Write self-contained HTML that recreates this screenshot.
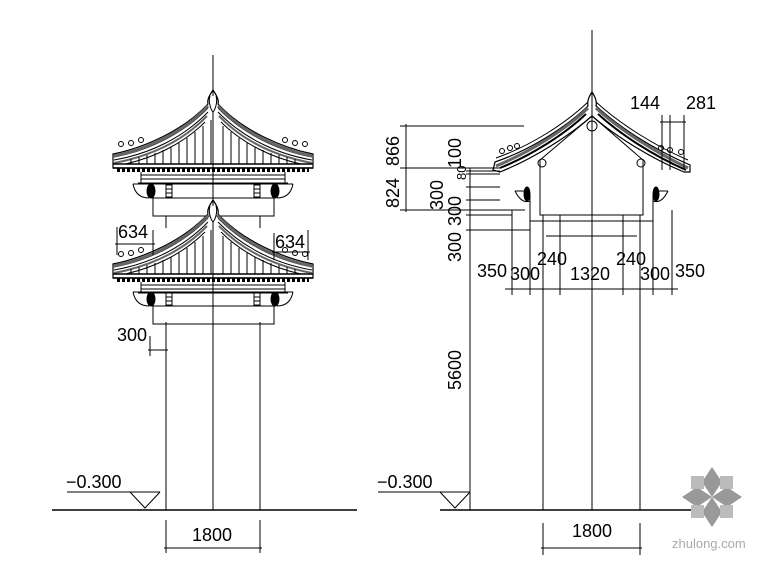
<!DOCTYPE html>
<html><head><meta charset="utf-8"><style>
html,body{margin:0;padding:0;background:#fff}
svg{display:block}
text{font-family:"Liberation Sans",sans-serif;font-size:18px;fill:#000;stroke:none;font-weight:normal}
</style></head><body>
<svg width="770" height="577" viewBox="0 0 770 577" xmlns="http://www.w3.org/2000/svg" stroke="#000" fill="none" stroke-width="1">
<defs>
<g id="roof">
  <path d="M0,-6 C-4,0 -6,4 -5,8 C-30,35 -70,52 -100,58 L-100,72 L100,72 L100,58 C70,52 30,35 5,8 C6,4 4,0 0,-6Z" stroke-width="1.2"/>
  <path d="M-5,12 C-30,38 -66,55 -99,61 M5,12 C30,38 66,55 99,61"/>
  <path d="M-5,16 C-30,42 -64,58 -99,64 M5,16 C30,42 64,58 99,64"/>
  <path d="M-5,10 C-30,37 -68,54 -99,60 M5,10 C30,37 68,54 99,60" stroke="#666" stroke-width="3"/>
  <path d="M-6,20 C-30,45 -62,60 -99,67 M6,20 C30,45 62,60 99,67" stroke="#666" stroke-width="2"/>
  <path d="M-8,26 C-30,48 -60,62 -88,68 M8,26 C30,48 60,62 88,68"/>
  <path d="M-3,0 C-5,6 -2,14 0,16 C2,14 5,6 3,0" fill="#fff"/>
  <path d="M-10,30 V68 M-18,36 V68 M-26,42 V68 M-34,47 V68 M-42,51 V68 M-50,54 V68 M-58,57 V68 M-66,59 V68 M-74,61 V68 M-82,63 V68 M10,30 V68 M18,36 V68 M26,42 V68 M34,47 V68 M42,51 V68 M50,54 V68 M58,57 V68 M66,59 V68 M74,61 V68 M82,63 V68 M-2,24 V68"/>
  <path d="M-100,72 H100 M-100,68 H100" stroke-width="1.5"/>
  <path d="M-96,74 H96" stroke-dasharray="3 2" stroke-width="4"/>
  <circle cx="-92" cy="48" r="2.5"/><circle cx="-82" cy="47" r="2.5"/><circle cx="-72" cy="44" r="2.5"/>
  <circle cx="92" cy="48" r="2.5"/><circle cx="82" cy="47" r="2.5"/><circle cx="72" cy="44" r="2.5"/>
  <path d="M-72,79 H72 M-72,83 H72 M-75,87 H75"/>
  <path d="M-72,76 V87 M72,76 V87"/>
</g>
<g id="band">
  <path d="M-80,0 H80 M-60,0 V14 M60,0 V14 M-62,14 H62"/>
  <path d="M-80,0 C-78,10 -72,14 -64,14"/>
  <path d="M80,0 C78,10 72,14 64,14"/>
  <ellipse cx="-62" cy="7" rx="4" ry="7" fill="#000"/>
  <ellipse cx="62" cy="7" rx="4" ry="7" fill="#000"/>
  <rect x="-47" y="1" width="6" height="12"/>
  <rect x="41" y="1" width="6" height="12"/>
  <path d="M-47,5 H-41 M-47,9 H-41 M41,5 H47 M41,9 H47"/>
  <rect x="-60" y="14" width="121" height="18"/>
</g>
</defs>

<line x1="213" y1="55" x2="213" y2="510"/>
<use href="#roof" x="213" y="96"/>
<use href="#band" x="213" y="184"/>
<use href="#roof" x="213" y="206"/>
<use href="#band" x="213" y="292"/>
<line x1="166" y1="216" x2="166" y2="228"/><line x1="260" y1="216" x2="260" y2="228"/>
<line x1="166" y1="322" x2="166" y2="510"/>
<line x1="260" y1="322" x2="260" y2="510"/>
<line x1="52" y1="510" x2="357" y2="510" stroke-width="1.5"/>
<line x1="67" y1="492" x2="160" y2="492"/>
<path d="M130,492 L145,508 L160,492"/>
<text x="66" y="488">−0.300</text>
<line x1="166" y1="520" x2="166" y2="553"/><line x1="260" y1="520" x2="260" y2="553"/>
<line x1="164" y1="548" x2="262" y2="548"/>
<text x="192" y="541">1800</text>
<line x1="150" y1="336" x2="150" y2="356"/>
<line x1="148" y1="350" x2="168" y2="350"/>
<text x="117" y="341">300</text>
<line x1="117" y1="227" x2="117" y2="255"/><line x1="153" y1="230" x2="153" y2="255"/>
<line x1="115" y1="244" x2="155" y2="244"/>
<text x="118" y="238">634</text>
<line x1="274" y1="233" x2="274" y2="260"/><line x1="308" y1="230" x2="308" y2="260"/>
<line x1="272" y1="252" x2="310" y2="252"/>
<text x="275" y="248">634</text>

<line x1="592" y1="30" x2="592" y2="510"/>
<path d="M592,92 C588,98 587,102 588,106 C565,128 530,150 495,162 L493,170 L500,172 C535,158 570,135 592,116 C614,135 650,158 684,172 L690,172 L690,165 C655,150 620,128 596,106 C597,102 596,98 592,92Z" stroke-width="1.2"/>
<path d="M588,102 C565,124 530,146 496,158 M596,102 C620,124 655,146 688,160" />
<path d="M588,108 C565,130 530,152 496,166 M596,108 C620,130 655,152 688,168" stroke="#666" stroke-width="3"/>
<path d="M586,114 C565,134 532,155 500,168 M598,114 C620,134 652,155 686,170" stroke-width="2"/>
<path d="M592,116 L540,160 M592,116 L643,160"/>
<circle cx="592" cy="126" r="5"/>
<circle cx="542" cy="163" r="4"/><circle cx="641" cy="163" r="4"/>
<circle cx="502" cy="151" r="2.5"/><circle cx="510" cy="148" r="2.5"/><circle cx="517" cy="146" r="2.5"/>
<circle cx="661" cy="148" r="2.5"/><circle cx="670" cy="150" r="2.5"/><circle cx="681" cy="152" r="2.5"/>
<path d="M540,160 V215 H643 V160"/>
<path d="M515,191 C520,201 525,203 530,201 M668,191 C663,201 658,203 653,201 M515,191 H530 M653,191 H668"/>
<ellipse cx="527" cy="194" rx="3" ry="7" fill="#000"/>
<ellipse cx="656" cy="194" rx="3" ry="7" fill="#000"/>
<path d="M530,221 H653 M546,236 H637"/>
<line x1="530" y1="195" x2="530" y2="295"/><line x1="653" y1="195" x2="653" y2="295"/>
<line x1="512" y1="210" x2="512" y2="295"/><line x1="672" y1="210" x2="672" y2="295"/>
<line x1="543" y1="215" x2="543" y2="510"/>
<line x1="560" y1="215" x2="560" y2="295"/>
<line x1="623" y1="215" x2="623" y2="295"/>
<line x1="640" y1="215" x2="640" y2="510"/>
<line x1="505" y1="289" x2="678" y2="289"/>
<text x="477" y="277">350</text><text x="510" y="280">300</text><text x="537" y="265">240</text>
<text x="570" y="280">1320</text><text x="616" y="265">240</text><text x="640" y="280">300</text><text x="675" y="277">350</text>
<line x1="406" y1="124" x2="406" y2="212"/>
<path d="M400,126 H524 M400,168 H500 M400,210 H525"/>
<text transform="translate(399,166) rotate(-90)">866</text>
<text transform="translate(399,208) rotate(-90)">824</text>
<line x1="470" y1="168" x2="470" y2="510"/>
<path d="M466,171 H500 M466,174 H500 M466,187 H500 M466,200 H500 M466,215 H512 M466,230 H530"/>
<text transform="translate(461,168) rotate(-90)">100</text>
<text transform="translate(466,180) rotate(-90)" style="font-size:13px">80</text>
<text transform="translate(443,210) rotate(-90)">300</text>
<text transform="translate(461,226) rotate(-90)">300</text>
<text transform="translate(461,262) rotate(-90)">300</text>
<text transform="translate(461,390) rotate(-90)">5600</text>
<path d="M662,115 V170 M670,115 V170 M684,115 V170 M660,122 H686"/>
<text x="630" y="109">144</text><text x="686" y="109">281</text>
<line x1="440" y1="510" x2="722" y2="510" stroke-width="1.5"/>
<line x1="378" y1="492" x2="470" y2="492"/>
<path d="M440,492 L455,508 L470,492"/>
<text x="377" y="488">−0.300</text>
<line x1="543" y1="523" x2="543" y2="555"/><line x1="640" y1="523" x2="640" y2="555"/>
<line x1="541" y1="548" x2="642" y2="548"/>
<text x="572" y="537">1800</text>

<g stroke="none">
<path d="M712,467 L722,482 L712,497 L702,482Z M712,527 L722,512 L712,497 L702,512Z M682,497 L697,487 L712,497 L697,507Z M742,497 L727,487 L712,497 L727,507Z" fill="#999"/>
<rect x="691" y="476" width="13" height="13" fill="#bbb"/><rect x="720" y="476" width="13" height="13" fill="#bbb"/>
<rect x="691" y="505" width="13" height="13" fill="#bbb"/><rect x="720" y="505" width="13" height="13" fill="#bbb"/>
</g>
<text x="672" y="548" style="font-size:13px;fill:#aaa">zhulong.com</text>
</svg>
</body></html>
